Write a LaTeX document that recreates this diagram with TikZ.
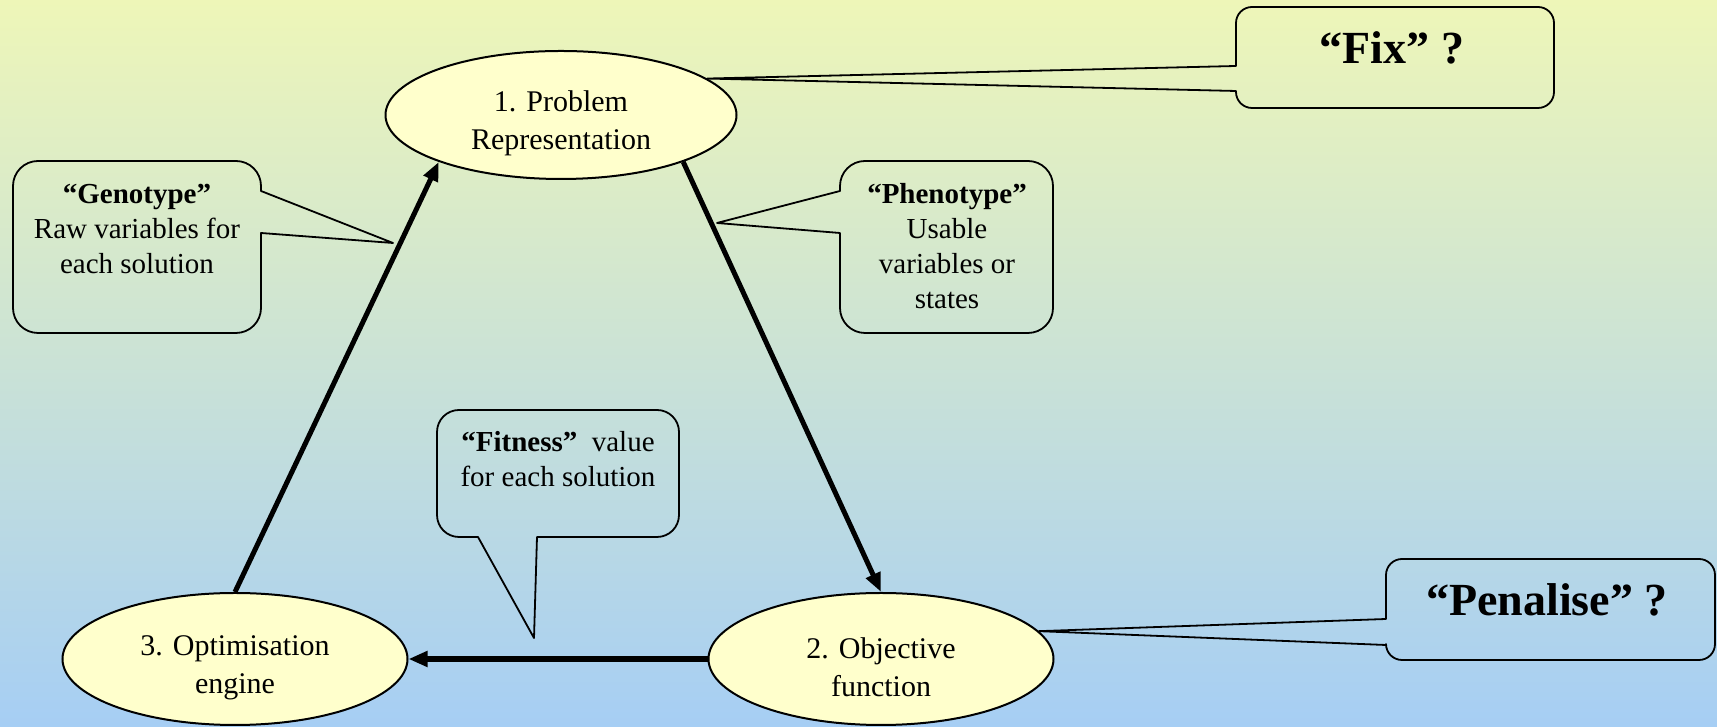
\documentclass[tikz,border=0pt]{standalone}
\usepackage{fontspec}
\setmainfont{Liberation Serif}
\usetikzlibrary{shapes.geometric,arrows.meta}

\definecolor{stagefill}{RGB}{255,255,204}
\definecolor{bgtop}{RGB}{238,246,184}
\definecolor{bgbottom}{RGB}{166,206,244}
\newcommand{\toplift}{\rule{0pt}{37pt}}

\begin{document}
\begin{tikzpicture}[x=1pt,y=1pt,
    stage/.style={ellipse, draw, line width=2pt, fill=stagefill,
        minimum width=345pt, minimum height=132pt, inner sep=0pt,
        align=center, font=\fontsize{30}{38}\selectfont},
    note/.style={align=center, inner sep=0pt, font=\fontsize{29}{35}\selectfont},
    bignote/.style={anchor=base, inner sep=0pt, font=\fontsize{46}{50}\selectfont\bfseries},
    bubble/.style={draw, line width=1.8pt, line join=round},
    flow/.style={line width=5pt, -{Triangle[length=19pt,width=15pt]}}]

    % Background
    \useasboundingbox (0,0) rectangle (1717,727);
    \shade[top color=bgtop, bottom color=bgbottom] (0,0) rectangle (1717,727);

    % The three stages
    \node[stage, minimum width=351pt, minimum height=128pt] (rep) at (561,612) {\toplift 1. Problem\\Representation};
    \node[stage] (obj) at (881,68) {\toplift 2. Objective\\function};
    \node[stage] (opt) at (235,68) {\toplift 3. Optimisation\\engine};

    % Cycle arrows
    \draw[flow] (opt.north) -- (rep.201);
    \draw[flow] (rep.339) -- (obj.north);
    \draw[flow, line width=6pt] (obj.west) -- (opt.east);

    % Callouts
    \draw[bubble] (261,536) -- (261,541) arc[start angle=0,end angle=90,radius=25]
        -- (38,566) arc[start angle=90,end angle=180,radius=25]
        -- (13,419) arc[start angle=180,end angle=270,radius=25]
        -- (236,394) arc[start angle=270,end angle=360,radius=25]
        -- (261,494) -- (393,484) -- cycle;
    \node[note] (geno) at (137,498) {\textbf{“Genotype”}\\Raw variables for\\each solution};

    \draw[bubble] (840,494) -- (840,419) arc[start angle=180,end angle=270,radius=25]
        -- (1028,394) arc[start angle=270,end angle=360,radius=25]
        -- (1053,541) arc[start angle=0,end angle=90,radius=25]
        -- (865,566) arc[start angle=90,end angle=180,radius=25]
        -- (840,536) -- (717,504) -- cycle;
    \node[note] (pheno) at (947,481) {\textbf{“Phenotype”}\\Usable\\variables or\\states};

    \draw[bubble] (537,190) -- (657,190) arc[start angle=270,end angle=360,radius=22]
        -- (679,295) arc[start angle=0,end angle=90,radius=22]
        -- (459,317) arc[start angle=90,end angle=180,radius=22]
        -- (437,212) arc[start angle=180,end angle=270,radius=22]
        -- (478,190) -- (534,89) -- cycle;
    \node[note] (fit) at (558,268) {\textbf{“Fitness”}\ \ value\\for each solution};

    \draw[bubble] (1236,636) -- (1236,635) arc[start angle=180,end angle=270,radius=16]
        -- (1538,619) arc[start angle=270,end angle=360,radius=16]
        -- (1554,704) arc[start angle=0,end angle=90,radius=16]
        -- (1252,720) arc[start angle=90,end angle=180,radius=16]
        -- (1236,661) -- (rep.14) -- cycle;
    \node[bignote] (fix) at (1392,663) {“Fix” ?};

    \draw[bubble] (1386,82) -- (1386,83) arc[start angle=180,end angle=270,radius=16]
        -- (1699,67) arc[start angle=270,end angle=360,radius=16]
        -- (1715,152) arc[start angle=0,end angle=90,radius=16]
        -- (1402,168) arc[start angle=90,end angle=180,radius=16]
        -- (1386,108) -- (obj.10) -- cycle;
    \node[bignote] (pen) at (1547,111) {“Penalise” ?};
\end{tikzpicture}
\end{document}
